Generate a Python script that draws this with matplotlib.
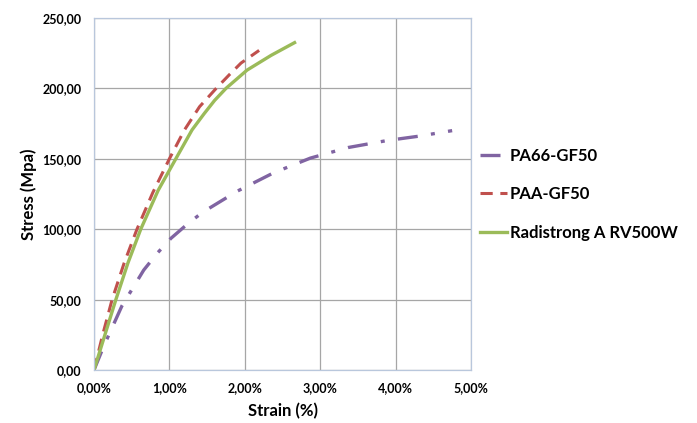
import matplotlib
matplotlib.use("Agg")
import matplotlib.pyplot as plt
from matplotlib.ticker import FuncFormatter

plt.rcParams['font.family'] = ['Lato', 'DejaVu Sans']

pa66_x = [0.0, 0.13, 0.37, 0.66, 0.84, 1.02, 1.24, 1.44, 1.9, 2.38, 2.87, 3.37, 3.89, 4.3, 4.75]
pa66_y = [0.0, 17, 45.5, 71, 83, 93.5, 103.7, 112, 127, 140, 150.5, 158, 163, 166, 170]

paa_x = [0.0, 0.12, 0.24, 0.4, 0.57, 0.78, 1.0, 1.2, 1.4, 1.62, 1.8, 1.95, 2.19]
paa_y = [0.0, 26, 50, 76, 100, 126, 150, 170.5, 187, 200, 210, 218, 227]

rad_x = [0.0, 0.29, 0.45, 0.62, 0.85, 1.085, 1.3, 1.46, 1.6, 1.75, 2.03, 2.35, 2.66]
rad_y = [0.0, 50, 76, 100, 127.5, 150, 170.5, 182, 191.5, 200, 213, 223.5, 232.5]

labels = ["PA66-GF50", "PAA-GF50", "Radistrong A RV500W"]
colors = ["#8064a2", "#c0504d", "#9bbb59"]

fig = plt.figure(figsize=(6.97, 4.23), dpi=100)
ax = fig.add_axes([94/697, 1-370/423, (471-94)/697, (370-18)/423])

ax.plot(pa66_x, pa66_y, color=colors[0], lw=2.4, dashes=(6, 4, 1.2, 4), label=labels[0])
ax.plot(paa_x, paa_y, color=colors[1], lw=2.2, dashes=(4, 2.5), label=labels[1])
ax.plot(rad_x, rad_y, color=colors[2], lw=2.4, label=labels[2])

ax.set_xlim(0, 5)
ax.set_ylim(0, 250)
ax.set_xticks([0, 1, 2, 3, 4, 5])
ax.set_yticks([0, 50, 100, 150, 200, 250])
ax.xaxis.set_major_formatter(FuncFormatter(lambda v, p: f"{v:.2f}%".replace('.', ',')))
ax.yaxis.set_major_formatter(FuncFormatter(lambda v, p: f"{v:.2f}".replace('.', ',')))
ax.grid(True, color="#a6a6a6", lw=0.9)
ax.set_axisbelow(True)
ax.tick_params(length=0, labelsize=9, pad=9)
for lab in ax.get_xticklabels() + ax.get_yticklabels():
    lab.set_fontweight('bold')
for s in ax.spines.values():
    s.set_color("#b9c7dc")
    s.set_linewidth(0.9)

ax.set_xlabel("Strain (%)", fontsize=12, fontweight='bold', labelpad=6)
ax.set_ylabel("Stress (Mpa)", fontsize=12, fontweight='bold', labelpad=4)

leg = ax.legend(loc='center left', frameon=False, borderpad=0, borderaxespad=0,
                fontsize=12, handlelength=1.6, labelspacing=1.35, handletextpad=0.2)
leg.set_bbox_to_anchor((1.024, 0.5), transform=ax.transAxes)
for t in leg.get_texts():
    t.set_fontweight('bold')

fig.savefig("out.png", dpi=100)
